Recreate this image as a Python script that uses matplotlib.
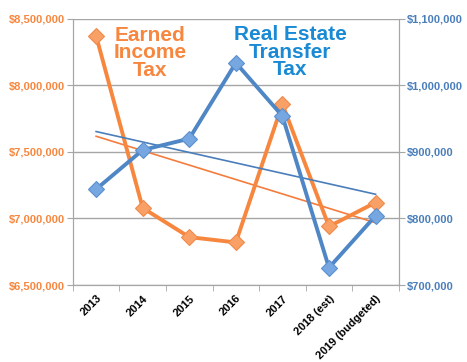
import matplotlib.pyplot as plt
import numpy as np
from matplotlib.ticker import FuncFormatter

plt.rcParams['font.family'] = ['Liberation Sans', 'DejaVu Sans']

years = ["2013", "2014", "2015", "2016", "2017", "2018 (est)", "2019 (budgeted)"]
earned_income = [8372000, 7079000, 6860000, 6820000, 7860000, 6940000, 7120000]
real_estate = [844000, 903000, 920000, 1034000, 954000, 726000, 804000]

orange = "#f7873f"
orange_mk = "#f9a066"
blue = "#4f86c6"
blue_mk = "#76a7e0"
title_blue = "#1a8ad4"
grid_c = "#a6a6a6"

fig = plt.figure(figsize=(4.67, 3.62), dpi=100)
ax = fig.add_axes([0.156, 0.2127, 0.698, 0.735])
ax2 = ax.twinx()

x = np.arange(len(years))

# trendlines from a linear fit of each series
p1 = np.polyfit(x, earned_income, 1)
p2 = np.polyfit(x, real_estate, 1)
ax.plot(x, np.polyval(p1, x), color="#f47c3c", lw=1.2, zorder=3)
ax2.plot(x, np.polyval(p2, x), color="#4a7ebb", lw=1.2, zorder=3)

ax.plot(x, earned_income, color=orange, lw=2.8, marker="D", ms=8.5,
        mfc=orange_mk, mec="#f08a4b", mew=0.8, zorder=4)
ax2.plot(x, real_estate, color=blue, lw=2.8, marker="D", ms=8.5,
         mfc=blue_mk, mec="#5b8fd0", mew=0.8, zorder=4)

ax.set_xlim(-0.5, 6.5)
ax.set_ylim(6500000, 8500000)
ax2.set_ylim(700000, 1100000)
ax.set_yticks(np.arange(6500000, 8500001, 500000))
ax2.set_yticks(np.arange(700000, 1100001, 100000))

fmt = FuncFormatter(lambda v, pos: "${:,.0f}".format(v))
ax.yaxis.set_major_formatter(fmt)
ax2.yaxis.set_major_formatter(fmt)

ax.set_xticks(x)
ax.set_xticklabels(years, rotation=45, ha="right", rotation_mode="anchor",
                   fontsize=8, fontweight="bold", color="black")
ax.set_xticks(np.arange(-0.5, 7, 1), minor=True)
ax.tick_params(axis="x", which="major", length=0, pad=6)
ax.tick_params(axis="x", which="minor", length=4, color=grid_c, direction="out")

ax.tick_params(axis="y", length=4, color=grid_c, labelcolor=orange, labelsize=8, pad=2)
ax2.tick_params(axis="y", length=4, color=grid_c, labelcolor="#4a7ebb", labelsize=8, pad=2)
for lab in ax.get_yticklabels():
    lab.set_fontweight("bold")
for lab in ax2.get_yticklabels():
    lab.set_fontweight("bold")

ax.grid(axis="y", color=grid_c, lw=1)
ax.set_axisbelow(True)

for a in (ax, ax2):
    a.spines["top"].set_visible(False)
    a.spines["left"].set_color(grid_c)
    a.spines["right"].set_color(grid_c)
    a.spines["bottom"].set_color(grid_c)

fig.text(150 / 467, 1 - 53 / 362, "Earned\nIncome\nTax", color=orange, fontsize=15,
         fontweight="bold", ha="center", va="center", linespacing=0.88)
fig.text(290 / 467, 1 - 52 / 362, "Real Estate\nTransfer\nTax", color=title_blue, fontsize=15,
         fontweight="bold", ha="center", va="center", linespacing=0.88)

fig.savefig("out.png", dpi=100)
